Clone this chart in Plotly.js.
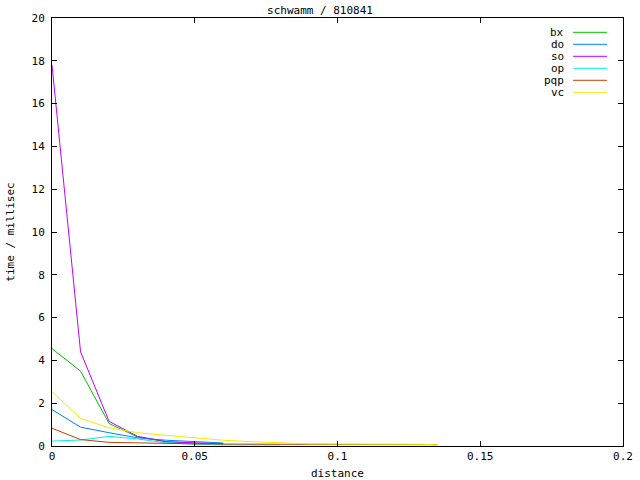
<!DOCTYPE html>
<html>
<head>
<meta charset="utf-8">
<script src="https://cdn.plot.ly/plotly-3.0.1.min.js"></script>
<style>html,body{margin:0;padding:0;background:#fff;}#chart{width:640px;height:480px;}</style>
</head>
<body>
<div id="chart"></div>
<script>
const distance = [0, 0.01, 0.02, 0.03, 0.04, 0.05, 0.06, 0.07, 0.08, 0.09, 0.10, 0.11, 0.12, 0.13, 0.135];
const seriesNames = ["bx", "do", "so", "op", "pqp", "vc"];
const bx  = [4.55, 3.5, 1.05, 0.42, 0.2, 0.12, 0.1, null, null, null, null, null, null, null, null];
const dO  = [1.7, 0.88, 0.62, 0.38, 0.27, 0.2, 0.14, null, null, null, null, null, null, null, null];
const so  = [17.8, 4.4, 1.15, 0.45, 0.2, 0.14, 0.1, null, null, null, null, null, null, null, null];
const op  = [0.23, 0.28, 0.45, 0.33, 0.15, 0.08, 0.05, 0.05, 0.05, null, null, null, null, null, null];
const pqp = [0.83, 0.3, 0.17, 0.14, 0.12, 0.1, 0.09, 0.08, 0.07, 0.07, 0.07, 0.07, 0.07, 0.07, 0.06];
const vc  = [2.54, 1.29, 0.85, 0.62, 0.5, 0.38, 0.27, 0.2, 0.14, 0.1, 0.09, 0.09, 0.08, 0.08, 0.05];
const seriesValues = [bx, dO, so, op, pqp, vc];
const colors = ["#00c000", "#0080ff", "#c000ff", "#00eeee", "#c04000", "#eeee00"];
const xTicks = [0, 0.05, 0.1, 0.15, 0.2];
const xTickText = ["0", "0.05", "0.1", "0.15", "0.2"];
const yTicks = [0, 2, 4, 6, 8, 10, 12, 14, 16, 18, 20];

const font = {family: "DejaVu Sans Mono, monospace", size: 11, color: "#000"};

const traces = seriesNames.map((n, i) => ({
  type: "scatter", mode: "lines", name: n,
  x: distance, y: seriesValues[i],
  line: {color: colors[i], width: 1},
  connectgaps: false, showlegend: false, hoverinfo: "skip"
}));

// custom gnuplot-style legend (text, then sample line)
const L = 52, R = 623, T = 18, B = 446;
const W = R - L, H = B - T;
const annotations = [], shapes = [];
seriesNames.forEach((n, i) => {
  const py = 32.3 + i * 12;
  const yp = (B - py) / H;
  annotations.push({xref: "paper", yref: "paper", x: (566 - L) / W, y: yp,
    xanchor: "right", yanchor: "middle", text: n, showarrow: false, font: font});
  shapes.push({type: "line", xref: "paper", yref: "paper",
    x0: (573 - L) / W, x1: (607 - L) / W, y0: yp, y1: yp,
    line: {color: colors[i], width: 1}});
});

const layout = {
  width: 640, height: 480,
  margin: {l: L, r: 640 - R, t: T, b: 480 - B, pad: 0},
  paper_bgcolor: "#fff", plot_bgcolor: "#fff",
  font: font,
  title: {text: "schwamm / 810841", font: font, x: 0.5, xanchor: "center", y: 0.979, yanchor: "middle"},
  showlegend: false,
  xaxis: {
    range: [0, 0.2], tickvals: xTicks, ticktext: xTickText,
    ticks: "inside", ticklen: 5, tickcolor: "#000", tickwidth: 1,
    showline: true, linecolor: "#000", linewidth: 1, mirror: "ticks",
    showgrid: false, zeroline: false, tickfont: font,
    title: {text: "distance", font: font, standoff: 8}
  },
  yaxis: {
    range: [0, 20], tickvals: yTicks,
    ticks: "inside", ticklen: 5, tickcolor: "#000", tickwidth: 1,
    showline: true, linecolor: "#000", linewidth: 1, mirror: "ticks",
    showgrid: false, zeroline: false, tickfont: font, ticklabelstandoff: 4,
    title: {text: "time / millisec", font: font, standoff: 14}
  },
  annotations: annotations,
  shapes: shapes
};

Plotly.newPlot("chart", traces, layout, {staticPlot: true, displayModeBar: false});
</script>
</body>
</html>
